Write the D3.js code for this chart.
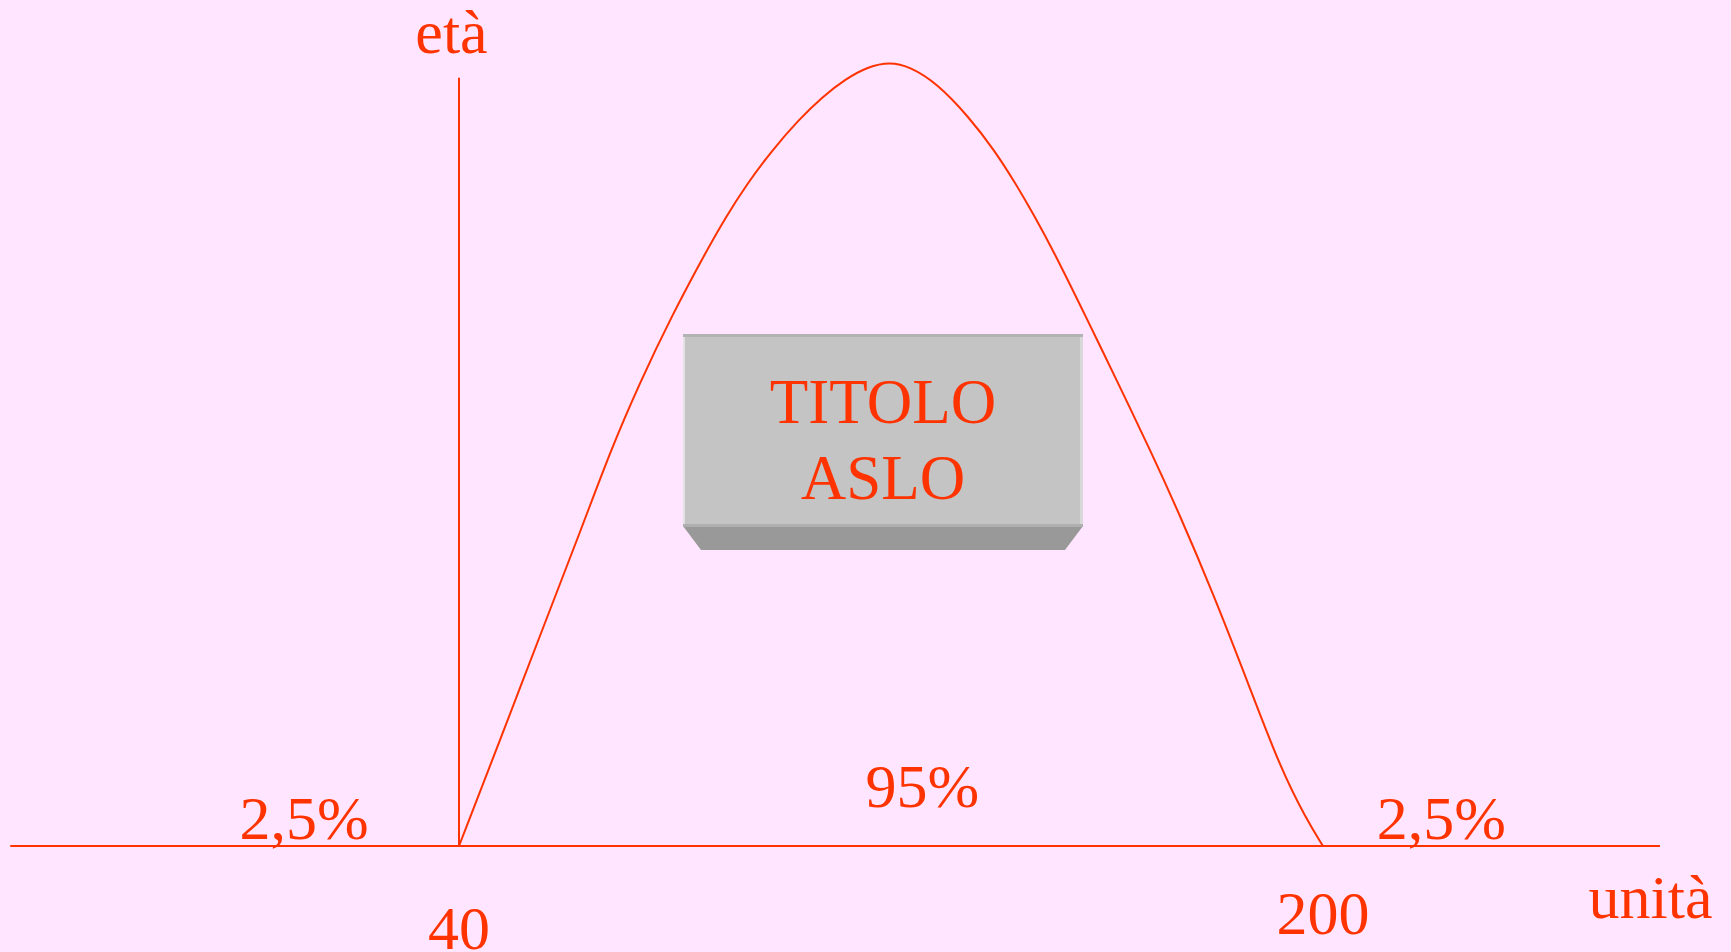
<!DOCTYPE html>
<html>
<head>
<meta charset="utf-8">
<script src="https://cdn.jsdelivr.net/npm/d3@7"></script>
<style>
  html, body { margin: 0; padding: 0; background: #FFE5FF; }
  svg { display: block; }
  text { font-family: "Liberation Serif", "Times New Roman", serif; fill: #FF3300; }
</style>
</head>
<body>
<script>
// ---- data ----
const curveX = [40, 47.6, 55.2, 62.8, 68.1, 73.5, 79.3, 85.9, 89.4, 93.3, 97.8, 103.0, 107.2, 111.5, 115.7, 119.8,
                123.5, 128.5, 134.4, 139.1, 143.0, 146.7, 150.0, 156.1, 162.0, 168.0, 173.5, 179.6, 185.9, 192.0, 197.0, 200];
const curveY = [0, 13.5, 27.2, 40.7, 50.5, 59.1, 67.5, 76.0, 80.2, 84.4, 88.6, 92.7, 95.5, 97.8, 99.4, 100,
                99.4, 97.3, 93.0, 88.8, 84.6, 80.2, 76.0, 67.5, 59.1, 50.5, 42.2, 32.3, 21.2, 10.1, 3.3, 0];
const tickValues = [40, 200];
const tickLabels = ["40", "200"];
const tailLabels = ["2,5%", "95%", "2,5%"];
const tailLabelX = [11.3, 125.8, 221.9];
const tailLabelY = [0.9, 5, 0.9];
const axisXExtent = [-43.1, 262.4];
const axisYTop = 98;
const titleLines = ["TITOLO", "ASLO"];
const yAxisTitle = "età";
const xAxisTitle = "unità";

// ---- layout ----
const W = 1731, H = 952;
const red = "#FF3300";
const svg = d3.select("body").append("svg").attr("width", W).attr("height", H);
svg.append("rect").attr("width", W).attr("height", H).attr("fill", "#FFE5FF");

const x = d3.scaleLinear().domain([40, 200]).range([459, 1323]);
const y = d3.scaleLinear().domain([0, 100]).range([846, 62]);

// x axis line
svg.append("line")
  .attr("x1", x(axisXExtent[0])).attr("x2", x(axisXExtent[1]))
  .attr("y1", y(0)).attr("y2", y(0))
  .attr("stroke", red).attr("stroke-width", 2);

// y axis line
svg.append("line")
  .attr("x1", x(40)).attr("x2", x(40))
  .attr("y1", y(0)).attr("y2", y(axisYTop))
  .attr("stroke", red).attr("stroke-width", 2);

// curve
const pts = curveX.map((v, i) => [v, curveY[i]]);
svg.append("path")
  .datum(pts)
  .attr("d", d3.line().x(d => x(d[0])).y(d => y(d[1])).curve(d3.curveBasis))
  .attr("fill", "none").attr("stroke", red).attr("stroke-width", 2);

// tick labels
const tickBaselines = [949, 934];
svg.selectAll("text.tick").data(tickValues).enter().append("text")
  .attr("class", "tick")
  .attr("x", d => x(d)).attr("y", (d, i) => tickBaselines[i])
  .attr("text-anchor", "middle").attr("font-size", 62)
  .text((d, i) => tickLabels[i]);

// percent labels
svg.selectAll("text.pct").data(tailLabels).enter().append("text")
  .attr("class", "pct")
  .attr("x", (d, i) => x(tailLabelX[i])).attr("y", (d, i) => y(tailLabelY[i]))
  .attr("text-anchor", "middle").attr("font-size", 62)
  .text(d => d);

// axis titles
svg.append("text").attr("x", 451.5).attr("y", 53)
  .attr("text-anchor", "middle").attr("font-size", 62).text(yAxisTitle);
svg.append("text").attr("x", 1650.5).attr("y", 918)
  .attr("text-anchor", "middle").attr("font-size", 62).text(xAxisTitle);

// title box (3D-like)
const bx0 = 683, bx1 = 1083, by0 = 334, by1 = 526, by2 = 550;
svg.append("polygon")
  .attr("points", [[bx0, by1], [bx1, by1], [bx1 - 18, by2], [bx0 + 18, by2]].map(p => p.join(",")).join(" "))
  .attr("fill", "#999999");
svg.append("rect").attr("x", bx0).attr("y", by0).attr("width", bx1 - bx0).attr("height", by1 - by0)
  .attr("fill", "#C4C4C4");
svg.append("rect").attr("x", bx0).attr("y", by0).attr("width", bx1 - bx0).attr("height", 3).attr("fill", "#B3B3B3");
svg.append("rect").attr("x", bx0).attr("y", by0 + 3).attr("width", 2).attr("height", by1 - by0 - 3).attr("fill", "#E2E2E2");
svg.append("rect").attr("x", bx1 - 3).attr("y", by0 + 3).attr("width", 3).attr("height", by1 - by0 - 3).attr("fill", "#D8D8D8");
svg.append("rect").attr("x", bx0).attr("y", by1 - 2).attr("width", bx1 - bx0).attr("height", 3).attr("fill", "#AFAFAF");

svg.selectAll("text.title").data(titleLines).enter().append("text")
  .attr("class", "title")
  .attr("x", 883).attr("y", (d, i) => [423, 499][i])
  .attr("text-anchor", "middle").attr("font-size", 63)
  .text(d => d);
</script>
</body>
</html>
